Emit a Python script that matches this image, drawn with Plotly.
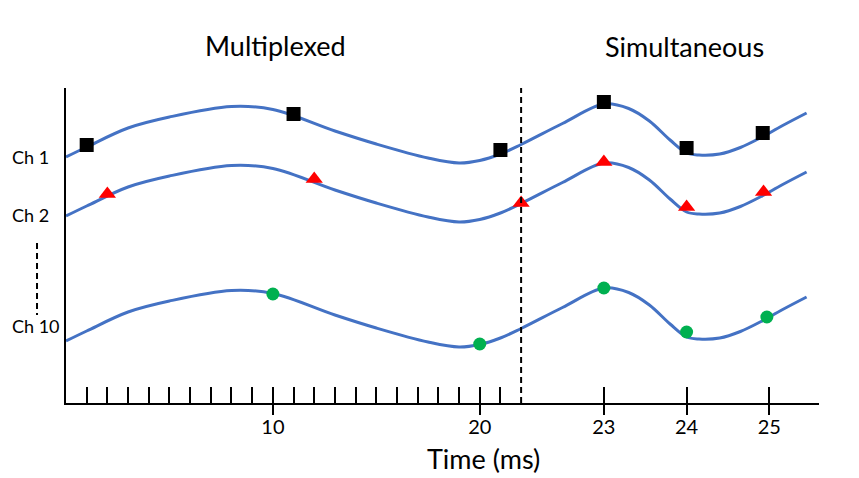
import plotly.graph_objects as go

# time (ms) of the points
trace_t = [0, 1, 3, 5, 8, 10, 13, 15, 17.5, 19, 20, 21, 22, 22.5, 23, 23.3, 23.55, 23.8,
           24.0, 24.15, 24.4, 24.65, 24.9, 25.15, 25.45]
ch1_y = [24.6, 25.6, 27.5, 28.6, 29.65, 29.35, 27.2, 25.9, 24.5, 24.0, 24.25, 24.9, 25.85, 27.95,
         29.9, 29.45, 28.2, 26.3, 25.0, 24.8, 24.9, 25.55, 26.55, 27.7, 29.0]
ch2_y = [18.7, 19.7, 21.6, 22.7, 23.75, 23.45, 21.3, 20.0, 18.6, 18.1, 18.35, 19.0, 19.95, 22.05,
         24.0, 23.55, 22.3, 20.4, 19.1, 18.9, 19.0, 19.65, 20.65, 21.8, 23.1]
ch10_y = [6.2, 7.2, 9.1, 10.2, 11.25, 10.95, 8.8, 7.5, 6.1, 5.6, 5.85, 6.5, 7.45, 9.55,
          11.5, 11.05, 9.8, 7.9, 6.6, 6.4, 6.5, 7.15, 8.15, 9.3, 10.6]

# sampling instants per channel
ch1_sample_t = [1, 11, 21, 23, 24, 24.92]
ch1_sample_y = [25.8, 28.9, 25.3, 30.1, 25.5, 27.0]
ch2_sample_t = [2, 12, 22, 23, 24, 24.93]
ch2_sample_y = [20.9, 22.4, 20.0, 24.1, 19.6, 21.1]
ch10_sample_t = [10, 20, 23, 24, 24.97]
ch10_sample_y = [10.9, 5.9, 11.5, 7.1, 8.6]

tick_labels = [10, 20, 23, 24, 25]
small_ticks = list(range(1, 22)) + [23, 24, 25]
switch_t = 22

channel_labels = ["Ch 1", "Ch 2", "Ch 10"]
channel_label_y = [24.6, 18.8, 7.7]

FONT = "Lato"
BREAK_T = 22
STRETCH = 4  # after the switch the time axis is drawn 4x wider


def axis_pos(t):
    return t if t <= BREAK_T else BREAK_T + STRETCH * (t - BREAK_T)


def to_axis(ts):
    return [axis_pos(t) for t in ts]


fig = go.Figure()

for ys in [ch1_y, ch2_y, ch10_y]:
    fig.add_trace(
        go.Scatter(
            x=to_axis(trace_t),
            y=ys,
            mode="lines",
            line=dict(color="#4472C4", width=3, shape="spline", smoothing=1.0),
            hoverinfo="skip",
        )
    )

samples = [
    (ch1_sample_t, ch1_sample_y, "square", 14, "black"),
    (ch2_sample_t, ch2_sample_y, "triangle-up", 15, "#FF0000"),
    (ch10_sample_t, ch10_sample_y, "circle", 13, "#00B050"),
]
for ts, ys, symbol, size, color in samples:
    fig.add_trace(
        go.Scatter(
            x=to_axis(ts),
            y=ys,
            mode="markers",
            marker=dict(symbol=symbol, size=size, color=color, line=dict(width=0)),
            cliponaxis=False,
        )
    )

fig.add_vline(x=axis_pos(switch_t), line=dict(color="black", width=2, dash="6px,4px"))

# dashed "..." between Ch 2 and Ch 10
fig.add_shape(
    type="line", xref="paper", yref="y",
    x0=-0.0385, x1=-0.0385, y0=16.0, y1=8.8,
    line=dict(color="black", width=2, dash="6px,4px"),
)

annotations = []
for text, y in zip(channel_labels, channel_label_y):
    annotations.append(dict(
        x=-0.0745, y=y, xref="paper", yref="y", text=text, showarrow=False,
        xanchor="left", yanchor="middle", font=dict(family=FONT, size=18, color="black"),
    ))
annotations.append(dict(
    x=0.2776, y=1.136, xref="paper", yref="paper", text="Multiplexed", showarrow=False,
    xanchor="center", yanchor="middle", font=dict(family=FONT, size=27, color="black"),
))
annotations.append(dict(
    x=0.822, y=1.133, xref="paper", yref="paper", text="Simultaneous", showarrow=False,
    xanchor="center", yanchor="middle", font=dict(family=FONT, size=27, color="black"),
))
annotations.append(dict(
    x=0.555, y=-0.175, xref="paper", yref="paper", text="Time (ms)", showarrow=False,
    xanchor="center", yanchor="middle", font=dict(family=FONT, size=27, color="black"),
))

# the page body adds an 8px offset, so the figure is 8px smaller on each side
fig.update_layout(
    width=851,
    height=470,
    paper_bgcolor="white",
    plot_bgcolor="white",
    showlegend=False,
    margin=dict(l=58, r=40, t=80, b=75),
    font=dict(family=FONT, size=16, color="black"),
    annotations=annotations,
)

fig.update_xaxes(
    range=[0, 36.4],
    showline=True,
    linecolor="black",
    linewidth=2,
    showgrid=False,
    zeroline=False,
    tickmode="array",
    tickvals=to_axis(tick_labels),
    ticktext=[str(v) for v in tick_labels],
    ticks="outside",
    ticklen=10,
    tickwidth=2,
    tickcolor="black",
    tickfont=dict(family=FONT, size=20),
    ticklabelstandoff=-5,
    minor=dict(
        tickmode="array",
        tickvals=to_axis(small_ticks),
        ticks="inside",
        ticklen=16,
        tickwidth=2,
        tickcolor="black",
    ),
)
fig.update_yaxes(
    range=[0, 31.5],
    showline=True,
    linecolor="black",
    linewidth=2,
    showgrid=False,
    zeroline=False,
    showticklabels=False,
    ticks="",
)

fig.write_html("out.html")
